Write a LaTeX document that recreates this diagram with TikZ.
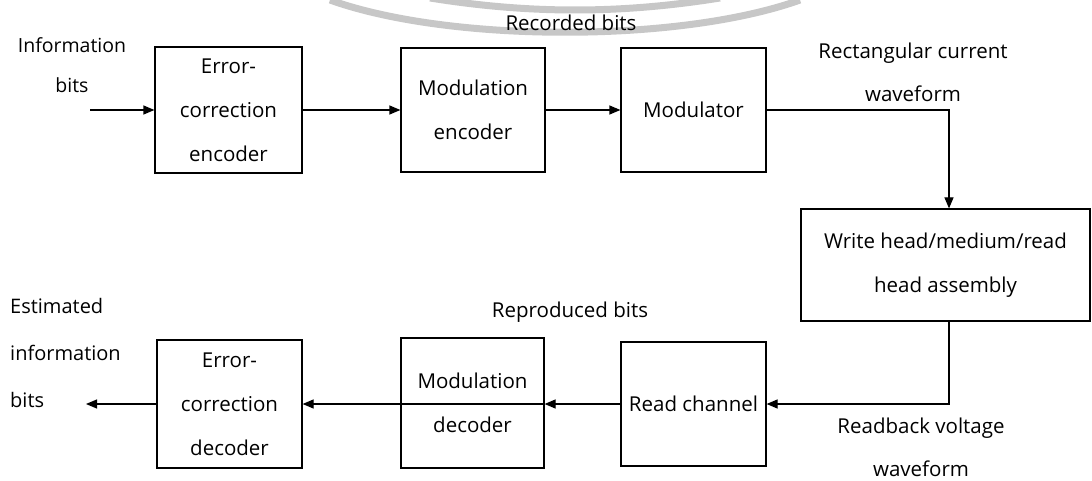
\documentclass[tikz,border=0pt]{standalone}
\usepackage{fontspec}
\setmainfont{Open Sans}
\usetikzlibrary{arrows.meta,calc}
\tikzset{
  blk/.style={draw, line width=1.2pt, inner sep=0pt, align=center, font=\fontsize{20.5}{44}\selectfont},
  lbl/.style={inner sep=0pt, align=center, font=\fontsize{20.5}{43}\selectfont},
  arr/.style={line width=1.2pt, -{Triangle[length=11pt,width=9pt]}},
  wm/.style={draw=black!22, line width=7pt}
}
\begin{document}
\begin{tikzpicture}[x=1pt,y=-1pt]
\useasboundingbox (0,0) rectangle (1092,481);
% faint watermark arcs
\draw[wm] (330,0) .. controls (450,43) and (680,43) .. (800,0);
\draw[wm] (430,-2) .. controls (530,14) and (620,14) .. (720,-2);
% blocks
\node[blk, minimum width=147pt, minimum height=126pt] (ece) at (228.5,110) {Error-\\correction\\encoder};
\node[blk, minimum width=144pt, minimum height=124pt] (me) at (473,110) {Modulation\\encoder};
\node[blk, minimum width=145pt, minimum height=124pt] (mod) at (693.5,110) {Modulator};
\node[blk, minimum width=289pt, minimum height=112pt] (wh) at (945.5,265) {Write head/medium/read\\head assembly};
\node[blk, minimum width=145pt, minimum height=124pt] (rc) at (693.5,404) {Read channel};
\node[blk, minimum width=143pt, minimum height=130pt] (md) at (472.5,403) {Modulation\\decoder};
\node[blk, minimum width=145pt, minimum height=128pt] (ecd) at (229.5,404) {Error-\\correction\\decoder};
% labels
\node[lbl, text width=120pt, font=\fontsize{19.5}{40}\selectfont] (lin) at (72,65) {Information\\bits};
\node[lbl] (lrec) at (571,23) {Recorded bits};
\node[lbl] (lrect) at (913,72) {Rectangular current\\waveform};
\node[lbl] (lrep) at (570,312) {Reproduced bits};
\node[lbl, anchor=west, align=left, font=\fontsize{20}{47}\selectfont] (lest) at (10,353) {Estimated\\information\\bits};
\node[lbl] (lread) at (921,447) {Readback voltage\\waveform};
% connectors
\coordinate (in) at (90,110);
\coordinate (out) at (86,404);
\coordinate (c1) at (949,110);
\draw[arr] (in) -- (ece.west);
\draw[arr] (ece.east) -- (me.west);
\draw[arr] (me.east) -- (mod.west);
\draw[arr] (mod.east) -- (c1) -- (c1 |- wh.north);
\draw[arr] (c1 |- wh.south) |- (rc.east);
\draw[arr] (rc.west) -- (rc.west -| md.east);
\draw[arr] (md.east |- rc.west) -- (ecd.east |- rc.west);
\draw[arr] (ecd.west) -- (out);
\end{tikzpicture}
\end{document}
